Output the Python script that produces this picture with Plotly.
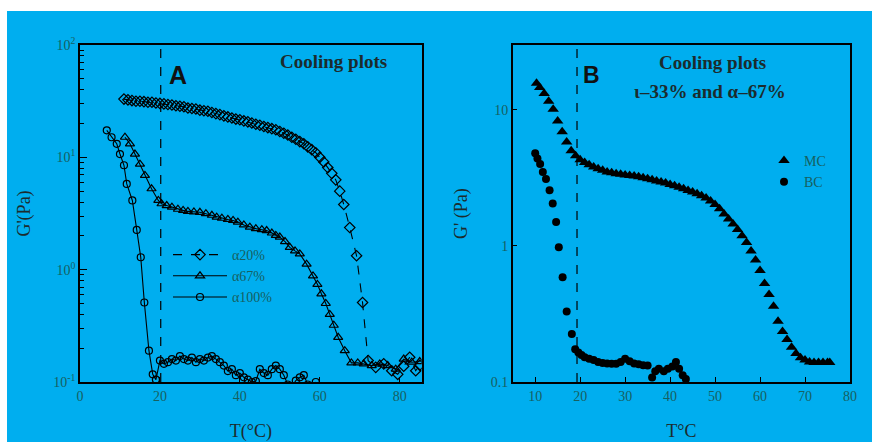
import math
import plotly.graph_objects as go

W, H = 872, 442
ML, MR, MT, MB = 80, 22, 45, 60
PW, PH = W - ML - MR, H - MT - MB

# ---------------- Panel A data (T in °C, G' in Pa) ----------------
t_a20 = [11, 12, 13, 14, 15, 16, 17, 18, 19, 20, 21, 22, 23, 24, 25, 26, 27, 28, 29, 30,
         31, 32, 33, 34, 35, 36, 37, 38, 39, 40, 41, 42, 43, 44, 45, 46, 47, 48, 49, 50,
         51, 52, 53, 54, 55, 56, 57, 58, 59, 60, 61, 62, 63, 64, 65, 66, 67.5, 69.2, 70.7,
         72.1, 74, 76, 78, 79.5, 81, 82.5, 84, 85]
g_a20 = [33.0, 32.5, 32.0, 31.6, 31.6, 31.3, 30.9, 30.9, 30.5, 30.2, 29.9, 29.5, 29.2, 28.8,
         28.5, 28.2, 27.5, 27.2, 26.9, 26.3, 26.0, 25.7, 25.1, 24.5, 24.0, 23.4, 22.9, 22.4,
         21.9, 21.6, 21.1, 20.7, 20.2, 19.7, 19.3, 18.8, 18.4, 18.0, 17.6, 17.0, 16.4, 15.8,
         15.1, 14.5, 13.8, 13.2, 12.4, 11.7, 11.0, 10.0, 9.1, 8.1, 7.2, 6.3, 5.0, 3.8, 2.37,
         1.33, 0.51, 0.155, 0.135, 0.145, 0.126, 0.117, 0.138, 0.166, 0.126, 0.141]

t_a67 = [11.25, 12.5, 13.75, 15, 16.25, 17.9, 19.6, 20.4, 21.7, 23, 24.5, 25.8, 27, 28.5, 30,
         31.5, 33, 34.2, 35.5, 37, 38.3, 39.5, 41, 42.5, 44, 45.5, 46.7, 48, 49, 50, 51.3,
         52.5, 53.8, 55, 56.7, 58.3, 59.4, 60.4, 61.5, 62.5, 63.5, 64.6, 66.25, 67.9, 69.5,
         71, 73, 75, 77, 79, 81, 83, 85]
g_a67 = [15.1, 13.2, 10.7, 8.7, 6.9, 5.25, 4.13, 3.86, 3.72, 3.6, 3.45, 3.37, 3.3, 3.27, 3.24,
         3.15, 3.05, 2.93, 2.87, 2.8, 2.74, 2.65, 2.5, 2.39, 2.32, 2.27, 2.23, 2.12, 2.02, 1.95,
         1.78, 1.58, 1.47, 1.38, 1.12, 0.88, 0.74, 0.61, 0.5, 0.40, 0.32, 0.25, 0.19, 0.148,
         0.148, 0.145, 0.14, 0.145, 0.14, 0.13, 0.16, 0.15, 0.152]

t_a100 = [6.7, 7.9, 9.2, 10, 11, 11.7, 13.1, 14.2, 15.2, 16.1, 17.25, 18.2, 19, 20, 21, 22, 23,
          24, 25, 26, 27, 28, 29, 30, 31, 32, 33, 34, 35, 36, 37, 38, 39, 40, 41, 42, 43, 44,
          45, 46, 47, 48, 49, 50, 51, 52, 53, 54, 55, 56, 57, 58, 59]
g_a100 = [17.4, 15.1, 13.2, 10.7, 8.5, 5.8, 4.13, 2.26, 1.29, 0.51, 0.19, 0.117, 0.105, 0.155,
          0.145, 0.15, 0.16, 0.155, 0.17, 0.16, 0.155, 0.165, 0.15, 0.16, 0.155, 0.165, 0.17,
          0.16, 0.15, 0.14, 0.125, 0.13, 0.115, 0.12, 0.11, 0.105, 0.1, 0.102, 0.13, 0.12,
          0.115, 0.13, 0.14, 0.13, 0.115, 0.095, 0.09, 0.103, 0.11, 0.115, 0.095, 0.09, 0.1]

# ---------------- Panel B data ----------------
t_mc = [10.3, 11, 12, 13, 14, 15, 16, 17, 18, 19, 20, 21, 22, 23, 24, 25, 26, 27, 28, 29, 30,
        31, 32, 33, 34, 35, 36, 37, 38, 39, 40, 41, 42, 43, 44, 45, 46, 47, 48, 49, 50, 51,
        52, 53, 54, 55, 56, 57, 58, 59, 60, 61, 62, 63, 64, 65, 66, 67, 68, 69, 70, 71, 72,
        73, 74, 75, 75.5]
g_mc = [15.7, 14.6, 13.2, 11.6, 10.1, 8.3, 6.9, 5.8, 5.0, 4.6, 4.3, 4.1, 3.95, 3.8, 3.7, 3.6,
        3.5, 3.45, 3.4, 3.37, 3.33, 3.3, 3.27, 3.22, 3.17, 3.12, 3.07, 3.0, 2.95, 2.9, 2.83,
        2.77, 2.7, 2.63, 2.56, 2.49, 2.42, 2.34, 2.25, 2.14, 2.02, 1.88, 1.72, 1.58, 1.45,
        1.32, 1.19, 1.06, 0.92, 0.79, 0.66, 0.53, 0.44, 0.36, 0.28, 0.235, 0.205, 0.18,
        0.162, 0.151, 0.145, 0.14, 0.139, 0.139, 0.139, 0.139, 0.139]

t_bc = [10.0, 10.5, 11.1, 11.7, 12.4, 13.2, 13.9, 14.65, 15.25, 16.1, 17.0, 18.15, 18.9, 19.6,
        20.3, 21, 22, 23, 24, 25, 26, 27, 28, 29, 30, 31, 32, 33, 34, 35, 36, 36.7, 37.5,
        38.6, 39.5, 40.5, 41.3, 42, 42.8, 43.5]
g_bc = [4.8, 4.4, 4.0, 3.5, 3.1, 2.57, 2.05, 1.5, 0.98, 0.59, 0.33, 0.225, 0.174, 0.165, 0.158,
        0.152, 0.148, 0.145, 0.14, 0.138, 0.137, 0.136, 0.136, 0.14, 0.148, 0.142, 0.137,
        0.135, 0.133, 0.132, 0.108, 0.12, 0.125, 0.12, 0.125, 0.13, 0.14, 0.125, 0.112, 0.105]

xticks_a = [0, 20, 40, 60, 80]
yticks_a = [0.1, 1, 10, 100]
yticktext_a = ["10<sup>-1</sup>", "10<sup>0</sup>", "10<sup>1</sup>", "10<sup>2</sup>"]
xticks_b = [10, 20, 30, 40, 50, 60, 70, 80]
yticks_b = [0.1, 1, 10]
yticktext_b = ["0.1", "1", "10"]

BG = "#00AEEF"
TICKC = "#17605f"
TEXTC = "#1c2b2d"
SERIF = "Liberation Serif, Times New Roman, serif"
SANS = "Liberation Sans, Arial, sans-serif"


def px_x(px):
    return (px - ML) / PW


def px_y(py):
    return (H - MB - py) / PH


fig = go.Figure()

fig.add_trace(go.Scatter(
    x=t_a20, y=g_a20, mode="lines+markers", name="α20%",
    line=dict(color="black", width=1.1, dash="dash"),
    marker=dict(symbol="diamond-open", size=8, color="black", line=dict(width=1.2)),
    xaxis="x", yaxis="y", legend="legend"))
fig.add_trace(go.Scatter(
    x=t_a67, y=g_a67, mode="lines+markers", name="α67%",
    line=dict(color="black", width=1.1),
    marker=dict(symbol="triangle-up-open", size=8, color="black", line=dict(width=1.2)),
    xaxis="x", yaxis="y", legend="legend"))
fig.add_trace(go.Scatter(
    x=t_a100, y=g_a100, mode="lines+markers", name="α100%",
    line=dict(color="black", width=1.1),
    marker=dict(symbol="circle-open", size=7, color="black", line=dict(width=1.2)),
    xaxis="x", yaxis="y", legend="legend"))

fig.add_trace(go.Scatter(
    x=t_mc, y=g_mc, mode="markers", name="MC",
    marker=dict(symbol="triangle-up", size=10, color="black"),
    xaxis="x2", yaxis="y2", legend="legend2"))
fig.add_trace(go.Scatter(
    x=t_bc, y=g_bc, mode="markers", name="BC",
    marker=dict(symbol="circle", size=8, color="black"),
    xaxis="x2", yaxis="y2", legend="legend2"))

minor_a = [m * 10 ** e for e in (-1, 0, 1) for m in range(2, 10)]

axis_common = dict(showline=True, linecolor="black", linewidth=1.5, mirror=True,
                   ticks="inside", tickcolor="black", showgrid=False, zeroline=False,
                   automargin=False,
                   tickfont=dict(family=SERIF, size=14, color=TICKC),
                   title_font=dict(family=SERIF, size=18, color=TEXTC))


def label(text, px, py, font):
    return dict(text=text, xref="paper", yref="paper", x=px_x(px), y=px_y(py),
                xanchor="center", yanchor="middle", showarrow=False, font=font)


fig.update_layout(
    width=W, height=H,
    margin=dict(l=ML, r=MR, t=MT, b=MB, autoexpand=False),
    paper_bgcolor=BG, plot_bgcolor=BG,
    xaxis=dict(domain=[0, px_x(421.7)], range=[0, 85.5], tickvals=xticks_a, ticklen=5,
               anchor="y", title=dict(text="T(°C)", standoff=24), **axis_common),
    yaxis=dict(type="log", range=[-1, 2], tickvals=yticks_a, ticktext=yticktext_a, ticklen=7,
               minor=dict(tickvals=minor_a, ticks="inside", ticklen=4, tickcolor="black"),
               anchor="x", title=dict(text="G'(Pa)", standoff=18), **axis_common),
    xaxis2=dict(domain=[px_x(512.7), 1], range=[5, 80], tickvals=xticks_b, ticklen=5,
                anchor="y2", title=dict(text="T°C", standoff=22), **axis_common),
    yaxis2=dict(type="log", range=[-1, math.log10(30)], tickvals=yticks_b, ticktext=yticktext_b,
                ticklen=5, anchor="x2", title=dict(text="G' (Pa)", standoff=18), **axis_common),
    legend=dict(x=px_x(168), y=px_y(239), xanchor="left", yanchor="top",
                bgcolor="rgba(0,0,0,0)", itemwidth=54, tracegroupgap=0,
                font=dict(family=SERIF, size=14, color=TICKC)),
    legend2=dict(x=px_x(764), y=px_y(145), xanchor="left", yanchor="top",
                 bgcolor="rgba(0,0,0,0)",
                 font=dict(family=SERIF, size=14, color=TICKC)),
    shapes=[
        dict(type="rect", xref="paper", yref="paper", x0=px_x(-2), x1=px_x(7),
             y0=px_y(H + 2), y1=px_y(-2), fillcolor="white", line=dict(width=0),
             layer="below"),
        dict(type="rect", xref="paper", yref="paper", x0=px_x(-2), x1=px_x(W + 2),
             y0=px_y(11), y1=px_y(-2), fillcolor="white", line=dict(width=0),
             layer="below"),
        dict(type="line", xref="x", yref="y domain", x0=20.2, x1=20.2, y0=0, y1=1,
             line=dict(color="black", width=1.2, dash="dash")),
        dict(type="line", xref="x2", yref="y2 domain", x0=19.3, x1=19.3, y0=0, y1=1,
             line=dict(color="black", width=1.2, dash="dash")),
    ],
    annotations=[
        label("<b>A</b>", 178, 75, dict(family=SANS, size=25, color="#111")),
        label("<b>Cooling plots</b>", 333, 62, dict(family=SERIF, size=19, color=TEXTC)),
        label("<b>B</b>", 591, 75, dict(family=SANS, size=23, color="#111")),
        label("<b>Cooling plots</b>", 712, 63, dict(family=SERIF, size=19, color=TEXTC)),
        label("<b>ι–33% and α–67%</b>", 710, 91, dict(family=SERIF, size=19, color=TEXTC)),
    ],
)

fig.write_html("out.html")
